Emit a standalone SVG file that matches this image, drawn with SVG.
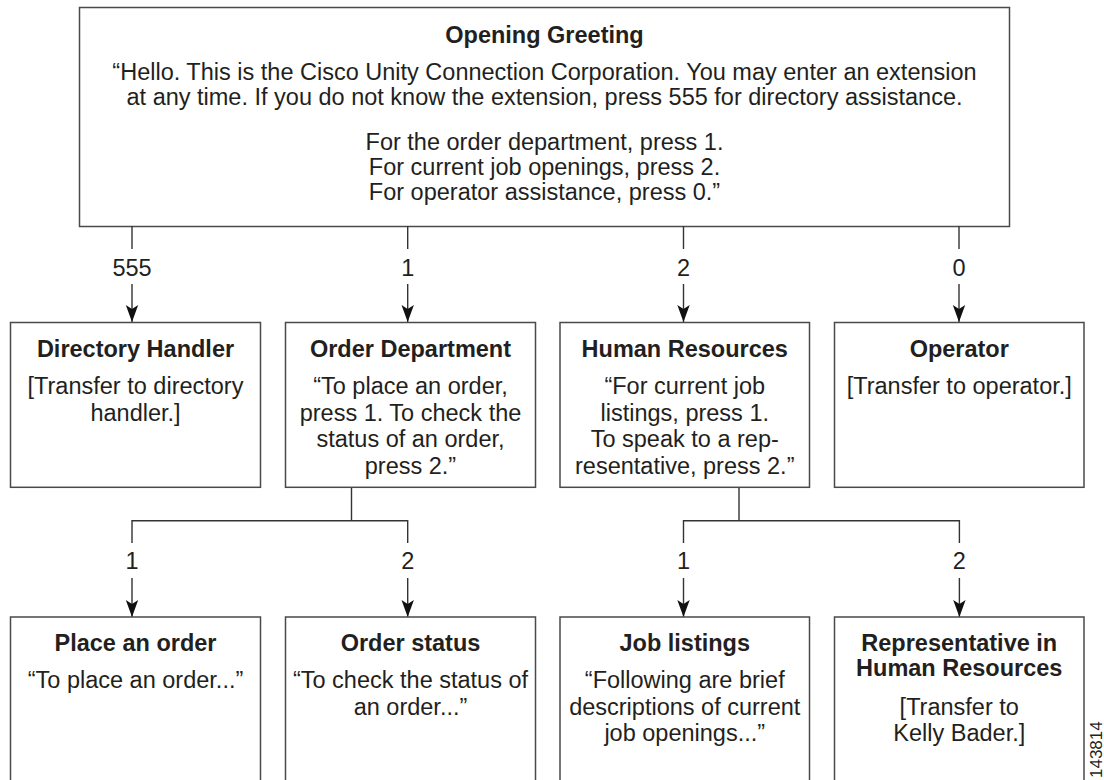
<svg xmlns="http://www.w3.org/2000/svg" width="1104" height="780" viewBox="0 0 1104 780">
<defs>
<style>
text{font-family:"Liberation Sans",Arial,Helvetica,sans-serif;fill:#231f20;text-anchor:middle;font-size:23.5px}
.t{font-weight:bold}
.box{fill:#fff;stroke:#4a4a4a;stroke-width:1.5}
.ln{fill:none;stroke:#333;stroke-width:1.4}
.lbl{font-size:23.5px}
.id{font-size:17px;text-anchor:start}
</style>
<marker id="ah" markerUnits="userSpaceOnUse" viewBox="-18 -7 19 14" refX="0" refY="0" markerWidth="19" markerHeight="14" orient="auto">
<path d="M0,0 L-17,-6.2 L-13,0 L-17,6.2 Z" fill="#111"/>
</marker>
</defs>
<rect width="1104" height="780" fill="#fff"/>

<g id="opening-greeting">
<rect class="box" x="79.5" y="7.5" width="930" height="219"/>
<text class="t" x="544.5" y="43">Opening Greeting</text>
<text x="544.5" y="80">“Hello. This is the Cisco Unity Connection Corporation. You may enter an extension</text>
<text x="544.5" y="105">at any time. If you do not know the extension, press 555 for directory assistance.</text>
<text x="544.5" y="150">For the order department, press 1.</text>
<text x="544.5" y="175">For current job openings, press 2.</text>
<text x="544.5" y="200">For operator assistance, press 0.”</text>
</g>

<g id="connectors">
<path class="ln" d="M132,226 V249 M407.7,226 V249 M683.5,226 V249 M959,226 V249"/>
<path class="ln" d="M132,284 V322" marker-end="url(#ah)"/>
<path class="ln" d="M407.7,284 V322" marker-end="url(#ah)"/>
<path class="ln" d="M683.5,284 V322" marker-end="url(#ah)"/>
<path class="ln" d="M959,284 V322" marker-end="url(#ah)"/>
<text class="lbl" x="132" y="276">555</text>
<text class="lbl" x="407.7" y="276">1</text>
<text class="lbl" x="683.5" y="276">2</text>
<text class="lbl" x="959" y="276">0</text>

<path class="ln" d="M351.5,487 V520.7 M132,543 V520.7 H407.7 V543"/>
<path class="ln" d="M739,487 V520.7 M683.5,543 V520.7 H959.4 V543"/>
<path class="ln" d="M132,578 V617" marker-end="url(#ah)"/>
<path class="ln" d="M407.7,578 V617" marker-end="url(#ah)"/>
<path class="ln" d="M683.5,578 V617" marker-end="url(#ah)"/>
<path class="ln" d="M959.4,578 V617" marker-end="url(#ah)"/>
<text class="lbl" x="132" y="569">1</text>
<text class="lbl" x="407.7" y="569">2</text>
<text class="lbl" x="683.5" y="569">1</text>
<text class="lbl" x="959.4" y="569">2</text>
</g>

<g id="directory-handler">
<rect class="box" x="10.5" y="322.5" width="250" height="164.8"/>
<text class="t" x="135.5" y="356.5">Directory Handler</text>
<text x="135.5" y="394">[Transfer to directory</text>
<text x="135.5" y="420.5">handler.]</text>
</g>

<g id="order-department">
<rect class="box" x="285.5" y="322.5" width="250" height="164.8"/>
<text class="t" x="410.5" y="356.5">Order Department</text>
<text x="410.5" y="394">“To place an order,</text>
<text x="410.5" y="420.5">press 1. To check the</text>
<text x="410.5" y="447">status of an order,</text>
<text x="410.5" y="473.5">press 2.”</text>
</g>

<g id="human-resources">
<rect class="box" x="560" y="322.5" width="249.5" height="164.8"/>
<text class="t" x="684.75" y="356.5">Human Resources</text>
<text x="684.75" y="394">“For current job</text>
<text x="684.75" y="420.5">listings, press 1.</text>
<text x="684.75" y="447">To speak to a rep-</text>
<text x="684.75" y="473.5">resentative, press 2.”</text>
</g>

<g id="operator">
<rect class="box" x="834.5" y="322.5" width="249.5" height="164.8"/>
<text class="t" x="959.25" y="356.5">Operator</text>
<text x="959.25" y="394">[Transfer to operator.]</text>
</g>

<g id="place-an-order">
<rect class="box" x="10.5" y="617" width="250" height="200"/>
<text class="t" x="135.5" y="651">Place an order</text>
<text x="135.5" y="688">“To place an order...”</text>
</g>

<g id="order-status">
<rect class="box" x="285.5" y="617" width="250" height="200"/>
<text class="t" x="410.5" y="651">Order status</text>
<text x="410.5" y="688">“To check the status of</text>
<text x="410.5" y="714.5">an order...”</text>
</g>

<g id="job-listings">
<rect class="box" x="560" y="617" width="249.5" height="200"/>
<text class="t" x="684.75" y="651">Job listings</text>
<text x="684.75" y="688">“Following are brief</text>
<text x="684.75" y="714.5">descriptions of current</text>
<text x="684.75" y="741">job openings...”</text>
</g>

<g id="representative">
<rect class="box" x="834.5" y="617" width="249.5" height="200"/>
<text class="t" x="959.25" y="651">Representative in</text>
<text class="t" x="959.25" y="676">Human Resources</text>
<text x="959.25" y="714.5">[Transfer to</text>
<text x="959.25" y="741">Kelly Bader.]</text>
</g>

<text class="id" transform="translate(1102,778) rotate(-90)">143814</text>
</svg>
